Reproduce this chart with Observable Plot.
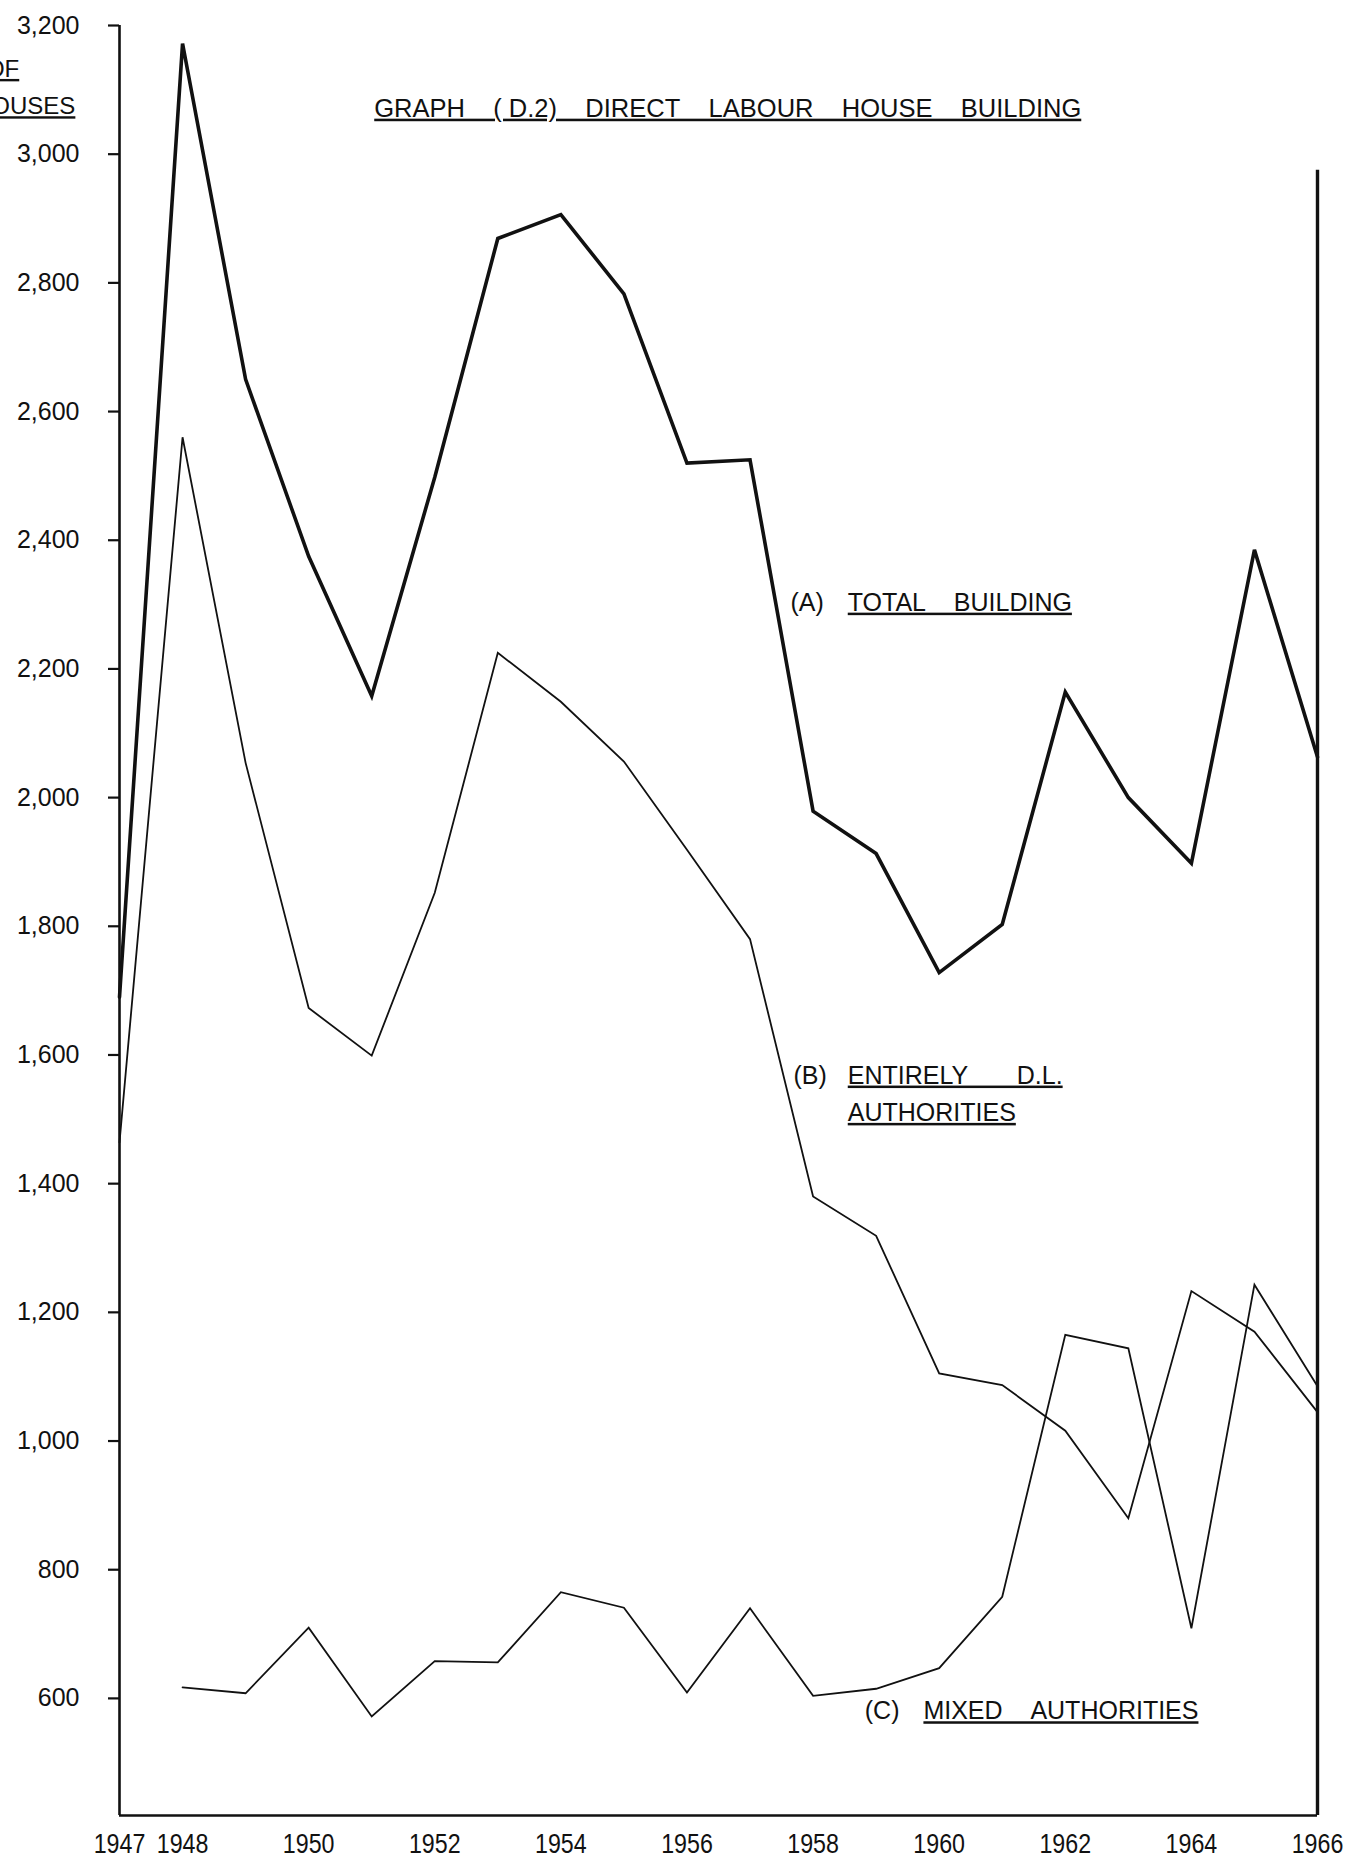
<!DOCTYPE html>
<html>
<head>
<meta charset="utf-8">
<script src="https://cdn.jsdelivr.net/npm/d3@7"></script>
<script src="https://cdn.jsdelivr.net/npm/@observablehq/plot@0.6"></script>
<style>
  html, body { margin: 0; padding: 0; background: #fff; overflow: hidden; }
  #chart svg { display: block; }
</style>
</head>
<body>
<div id="chart"></div>
<script>
// ---- data ----
const years = [1947, 1948, 1949, 1950, 1951, 1952, 1953, 1954, 1955, 1956,
               1957, 1958, 1959, 1960, 1961, 1962, 1963, 1964, 1965, 1966];
const totalBuilding = [1690, 3172, 2650, 2375, 2158, 2498, 2869, 2906, 2783, 2520,
                       2525, 1979, 1913, 1728, 1803, 2164, 2000, 1898, 2385, 2063];
const entirelyDL    = [1464, 2560, 2054, 1673, 1599, 1852, 2225, 2149, 2056, 1919,
                       1780, 1380, 1319, 1105, 1087, 1016, 880, 1233, 1170, 1045];
const mixedAuth     = [null, 617, 608, 710, 572, 658, 656, 765, 741, 609,
                       740, 604, 615, 647, 758, 1165, 1144, 709, 1243, 1085];
const yTickValues = [600, 800, 1000, 1200, 1400, 1600, 1800, 2000, 2200, 2400, 2600, 2800, 3000, 3200];
const xTickValues = [1947, 1948, 1950, 1952, 1954, 1956, 1958, 1960, 1962, 1964, 1966];
const titleWords = ["GRAPH", "( D.2)", "DIRECT", "LABOUR", "HOUSE", "BUILDING"];
const seriesTags = ["(A)", "(B)", "(C)"];
const seriesNames = [["TOTAL", "BUILDING"], ["ENTIRELY", "D.L."], ["AUTHORITIES"], ["MIXED", "AUTHORITIES"]];
const axisTitle = ["NO. OF", "HOUSES"];
const yBottom = 418, yTop = 3200, rightEdgeTop = 2975;

// wide word gaps as in the hand lettering
const spread = (words, n) => words.join("\u00a0".repeat(n));

const titleStr = spread(titleWords, 4);
const labelA = spread(seriesNames[0], 4);
const labelB1 = spread(seriesNames[1], 7);
const labelB2 = spread(seriesNames[2], 1);
const labelC = spread(seriesNames[3], 4);

const rows = (vals) => years.map((y, i) => ({year: y, value: vals[i]})).filter(d => d.value != null);

const fontMain = "'Liberation Sans', Arial, sans-serif";
const labelSize = 25;

const chart = Plot.plot({
  width: 1353,
  height: 1875,
  marginLeft: 119,
  marginRight: 36,
  marginTop: 25,
  marginBottom: 60,
  x: {domain: [1947, 1966]},
  y: {domain: [yBottom, yTop]},
  style: {background: "#fff", color: "#111", overflow: "visible"},
  marks: [
    Plot.axisY({ticks: yTickValues, tickFormat: d3.format(","), tickSize: 11, tickPadding: 29,
                fontSize: 25, fontFamily: fontMain, label: null, strokeWidth: 2.2}),
    Plot.axisX({ticks: xTickValues, tickFormat: d => String(d), tickSize: 0, tickPadding: 18,
                fontSize: 27, fontFamily: fontMain, label: null}),
    // frame: left axis, bottom axis, right edge
    Plot.ruleX([1947], {y1: yBottom, y2: yTop, strokeWidth: 2.6, stroke: "#111"}),
    Plot.ruleY([yBottom], {x1: 1947, x2: 1966, strokeWidth: 2.6, stroke: "#111"}),
    Plot.ruleX([1966], {y1: yBottom, y2: rightEdgeTop, strokeWidth: 3.4, stroke: "#111"}),
    // series
    Plot.line(rows(totalBuilding), {x: "year", y: "value", stroke: "#111", strokeWidth: 3.6, strokeLinejoin: "miter", strokeMiterlimit: 3}),
    Plot.line(rows(entirelyDL), {x: "year", y: "value", stroke: "#111", strokeWidth: 1.8, strokeLinejoin: "miter", strokeMiterlimit: 3}),
    Plot.line(rows(mixedAuth), {x: "year", y: "value", stroke: "#111", strokeWidth: 1.8, strokeLinejoin: "miter", strokeMiterlimit: 3}),
    // title
    Plot.text([titleStr], {x: 1951.04, y: 3071, text: d => d, textAnchor: "start",
      fontSize: 25.5, fontFamily: fontMain, fill: "#111"}),
    // y-axis caption (clipped by the page edge as in the reference)
    Plot.text([axisTitle[0]], {x: 1945.41, y: 3132, text: d => d, textAnchor: "end",
      fontSize: 24, fontFamily: fontMain, fill: "#111"}),
    Plot.text([axisTitle[1]], {x: 1946.30, y: 3074, text: d => d, textAnchor: "end",
      fontSize: 24, fontFamily: fontMain, fill: "#111"}),
    // series labels
    Plot.text([seriesTags[0]], {x: 1957.64, y: 2303, text: d => d, textAnchor: "start",
      fontSize: labelSize, fontFamily: fontMain, fill: "#111"}),
    Plot.text([labelA], {x: 1958.55, y: 2303, text: d => d, textAnchor: "start",
      fontSize: labelSize, fontFamily: fontMain, fill: "#111"}),
    Plot.text([seriesTags[1]], {x: 1957.69, y: 1568, text: d => d, textAnchor: "start",
      fontSize: labelSize, fontFamily: fontMain, fill: "#111"}),
    Plot.text([labelB1], {x: 1958.55, y: 1568, text: d => d, textAnchor: "start",
      fontSize: labelSize, fontFamily: fontMain, fill: "#111"}),
    Plot.text([labelB2], {x: 1958.55, y: 1510, text: d => d, textAnchor: "start",
      fontSize: labelSize, fontFamily: fontMain, fill: "#111"}),
    Plot.text([seriesTags[2]], {x: 1958.82, y: 580, text: d => d, textAnchor: "start",
      fontSize: labelSize, fontFamily: fontMain, fill: "#111"}),
    Plot.text([labelC], {x: 1959.75, y: 580, text: d => d, textAnchor: "start",
      fontSize: labelSize, fontFamily: fontMain, fill: "#111"})
  ]
});
document.getElementById("chart").appendChild(chart);

// underline the lettering that is underlined in the original
const underlined = new Set([titleStr, axisTitle[0], axisTitle[1], labelA, labelB1, labelB2, labelC]);
d3.select(chart).selectAll("text").each(function() {
  if (underlined.has(this.textContent)) {
    d3.select(this)
      .style("text-decoration", "underline")
      .style("text-decoration-thickness", "3px")
      .style("text-underline-offset", "5px");
  }
});
// condensed year lettering on the x axis
const xTickStrings = new Set(xTickValues.map(String));
d3.select(chart).selectAll("text").each(function() {
  if (xTickStrings.has(this.textContent)) {
    const w = this.getComputedTextLength();
    this.setAttribute("textLength", (w * 0.86).toFixed(1));
    this.setAttribute("lengthAdjust", "spacingAndGlyphs");
  }
});
</script>
</body>
</html>
